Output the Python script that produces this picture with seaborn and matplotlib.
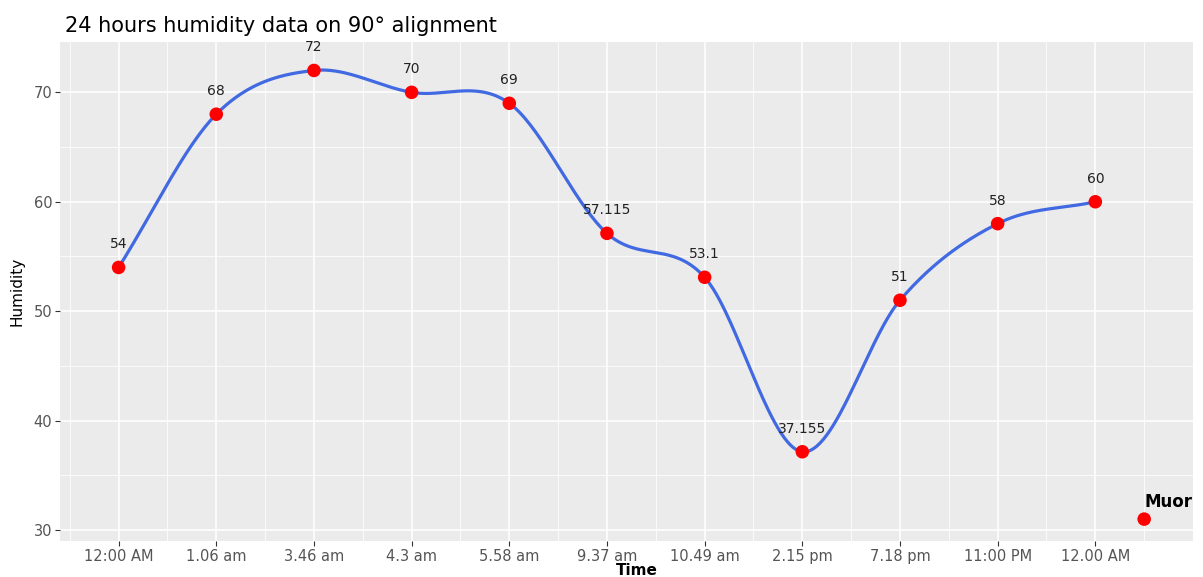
"""
24 hours humidity readings on the 90 degree alignment, ggplot-like look.
"""

import numpy as np
import pandas as pd
import matplotlib
matplotlib.use("Agg")
import matplotlib.pyplot as plt
from matplotlib.ticker import FixedLocator
import seaborn as sns

# Data
times = ["12:00 AM", "1.06 am", "3.46 am", "4.3 am", "5.58 am", "9.37 am",
         "10.49 am", "2.15 pm", "7.18 pm", "11:00 PM", "12.00 AM"]
humidity = [54, 68, 72, 70, 69, 57.115, 53.1, 37.155, 51, 58, 60]
point_labels = ["54", "68", "72", "70", "69", "57.115", "53.1", "37.155",
                "51", "58", "60"]
extra_x = [10.5]
extra_y = [31]
extra_label = "Muor"


def smooth_curve(x, y, per_seg=60):
    """Catmull-Rom style interpolating spline through the points."""
    x = np.asarray(x, float)
    y = np.asarray(y, float)
    k = len(y)
    m = np.empty(k)
    m[1:-1] = (y[2:] - y[:-2]) / 2
    m[0] = y[1] - y[0]
    m[-1] = y[-1] - y[-2]
    xs, ys = [], []
    t = np.linspace(0, 1, per_seg, endpoint=False)
    h00 = 2 * t**3 - 3 * t**2 + 1
    h10 = t**3 - 2 * t**2 + t
    h01 = -2 * t**3 + 3 * t**2
    h11 = t**3 - t**2
    for i in range(k - 1):
        xs.append(x[i] + t * (x[i + 1] - x[i]))
        ys.append(h00 * y[i] + h10 * m[i] + h01 * y[i + 1] + h11 * m[i + 1])
    xs.append([x[-1]])
    ys.append([y[-1]])
    return np.concatenate(xs), np.concatenate(ys)


def main():
    sns.set_theme(style="darkgrid", rc={
        "axes.facecolor": "#EBEBEB",
        "grid.color": "white",
        "axes.edgecolor": "#EBEBEB",
    })
    plt.rcParams["font.family"] = ["DejaVu Sans"]

    df = pd.DataFrame({"pos": np.arange(len(times)), "humidity": humidity})
    xs, ys = smooth_curve(df["pos"], df["humidity"])
    smooth = pd.DataFrame({"pos": xs, "humidity": ys})

    fig = plt.figure(figsize=(12.03, 5.77), dpi=100)
    W, H = 1203, 577
    ax = fig.add_axes([60 / W, 1 - 541 / H, (1193 - 60) / W, (541 - 42) / H])

    sns.lineplot(data=smooth, x="pos", y="humidity", ax=ax,
                 color="#4169E1", linewidth=2.3, zorder=3)
    sns.scatterplot(data=df, x="pos", y="humidity", ax=ax, color="#FF0000",
                    s=95, edgecolor="none", zorder=4)
    sns.scatterplot(x=extra_x, y=extra_y, ax=ax, color="#FF0000",
                    s=95, edgecolor="none", zorder=4)

    for xp, yp, lab in zip(df["pos"], df["humidity"], point_labels):
        ax.text(xp, yp + 2.1, lab, ha="center", va="center",
                fontsize=10, color="#222222", zorder=5)
    ax.text(extra_x[0], extra_y[0] + 1.6, extra_label, ha="left", va="center",
            fontsize=12, fontweight="bold", color="black", zorder=5,
            clip_on=False)

    ax.set_xlim(-0.6, 11.0)
    ax.set_ylim(29.0, 74.6)
    ax.set_xticks(range(len(times)))
    ax.set_xticklabels(times)
    ax.set_yticks([30, 40, 50, 60, 70])
    ax.xaxis.set_minor_locator(FixedLocator(np.arange(-0.5, 11.0, 1.0)))
    ax.yaxis.set_minor_locator(FixedLocator([35, 45, 55, 65]))
    ax.grid(which="major", color="white", linewidth=1.1)
    ax.grid(which="minor", color="white", linewidth=0.55)

    ax.tick_params(axis="both", which="major", length=3.5, width=0.8,
                   color="#333333", labelcolor="#555555", labelsize=10.5,
                   pad=2, bottom=True, left=True)
    ax.tick_params(axis="both", which="minor", length=0)

    ax.set_xlabel("Time", fontsize=11, fontweight="bold", color="black",
                  labelpad=1)
    ax.xaxis.set_label_coords((637 - 60) / (1193 - 60), -0.045)
    ax.set_ylabel("Humidity", fontsize=11, color="black")
    ax.yaxis.set_label_coords(-(60 - 25) / (1193 - 60), 0.5)

    fig.text(65 / W, 1 - 26 / H, "24 hours humidity data on 90° alignment",
             fontsize=15, color="black", ha="left", va="center")

    for s in ax.spines.values():
        s.set_visible(False)

    fig.savefig("out.png", dpi=100)


if __name__ == "__main__":
    main()
